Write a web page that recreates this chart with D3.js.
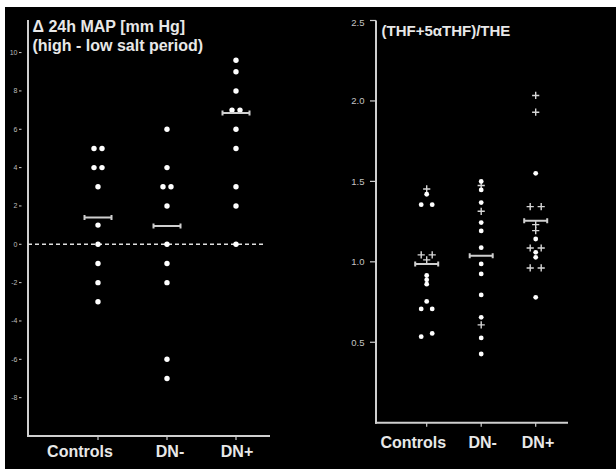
<!DOCTYPE html>
<html>
<head>
<meta charset="utf-8">
<script src="https://cdn.jsdelivr.net/npm/d3@7"></script>
<style>
html,body{margin:0;padding:0;background:#fff;}
svg{display:block;}
text{font-family:"Liberation Sans",Arial,sans-serif;}
</style>
</head>
<body>
<script>
// ---------- DATA ----------
const categories = ["Controls", "DN-", "DN+"];

// Left panel: Δ 24h MAP [mm Hg] (high - low salt period)
const mapTicks = [10, 8, 6, 4, 2, 0, -2, -4, -6, -8];
const mapControls = [5, 5, 4, 4, 3, 1, 0, -1, -2, -3];
const mapDNminus = [6, 4, 3, 3, 2, 0, -1, -2, -6, -7];
const mapDNplus = [9.6, 9, 8, 7, 7, 6, 5, 3, 2, 0];
const mapMeans = [1.4, 0.95, 6.85];

// Right panel: (THF+5αTHF)/THE  — circles and crosses
const ratioTicks = [2.5, 2.0, 1.5, 1.0, 0.5];
const ratioControlsCircle = [1.42, 1.355, 1.355, 0.915, 0.888, 0.861, 0.754, 0.707, 0.707, 0.555, 0.535];
const ratioControlsCross = [1.453, 1.043, 1.043, 1.012];
const ratioDNminusCircle = [1.50, 1.447, 1.368, 1.244, 1.192, 1.088, 0.987, 0.925, 0.794, 0.655, 0.527, 0.427];
const ratioDNminusCross = [1.474, 1.314, 0.608];
const ratioDNplusCircle = [1.55, 1.142, 1.059, 1.028, 0.779];
const ratioDNplusCross = [2.034, 1.93, 1.343, 1.343, 1.231, 1.194, 1.086, 1.086, 0.962, 0.962];
const ratioMeans = [0.987, 1.037, 1.256];

// ---------- LAYOUT ----------
const W = 616, H = 469;
const axisCol = "#cfcfcf", textCol = "#e8e8e8", dotCol = "#ffffff", crossCol = "#d6d6d6";

const svg = d3.select("body").append("svg").attr("width", W).attr("height", H);
svg.append("rect").attr("x", 0).attr("y", 0).attr("width", W).attr("height", H).attr("fill", "#fff");
svg.append("rect").attr("x", 5).attr("y", 7).attr("width", W - 5).attr("height", H - 7).attr("fill", "#000");

// Dodge helper: points closer than thresh px get spread horizontally
function dodge(points, y, step, thresh) {
  const s = points.map((p, i) => ({...p, i})).sort((a, b) => a.v - b.v);
  const clusters = [];
  s.forEach((p, k) => {
    if (k > 0 && Math.abs(y(p.v) - y(s[k - 1].v)) < thresh) clusters[clusters.length - 1].push(p);
    else clusters.push([p]);
  });
  clusters.forEach(c => c.forEach((p, j) => { p.dx = (j - (c.length - 1) / 2) * 2 * step; }));
  return s;
}

function crossPath(cx, cy, h) {
  return `M${cx - h},${cy}H${cx + h}M${cx},${cy - h}V${cy + h}`;
}

function meanBar(g, cx, cy, half, cap) {
  g.append("path")
    .attr("d", `M${cx - half},${cy}H${cx + half}M${cx - half},${cy - cap}V${cy + cap}M${cx + half},${cy - cap}V${cy + cap}`)
    .attr("stroke", axisCol).attr("stroke-width", 2).attr("fill", "none");
}

// ---------- LEFT PANEL ----------
(function () {
  const g = svg.append("g");
  const axX = 28, top = 20, bottom = 436, right = 270;
  const y = d3.scaleLinear().domain([-10, 11.7]).range([bottom, top]);
  const x = d3.scalePoint().domain(categories).range([98, 236]);
  const labelShift = {"Controls": -18, "DN-": 3, "DN+": 1};

  // axes
  g.append("line").attr("x1", axX).attr("x2", axX).attr("y1", top).attr("y2", bottom + 1)
    .attr("stroke", axisCol).attr("stroke-width", 2);
  g.append("line").attr("x1", axX - 1).attr("x2", right).attr("y1", bottom).attr("y2", bottom)
    .attr("stroke", axisCol).attr("stroke-width", 2);

  mapTicks.forEach(t => {
    g.append("line").attr("x1", 19).attr("x2", 21.5).attr("y1", y(t)).attr("y2", y(t))
      .attr("stroke", axisCol).attr("stroke-width", 1);
    g.append("text").attr("x", 17.5).attr("y", y(t)).attr("dy", "0.35em")
      .attr("text-anchor", "end").attr("font-size", 7).attr("fill", "#bdbdbd").text(t);
  });

  categories.forEach(c => {
    g.append("line").attr("x1", x(c)).attr("x2", x(c)).attr("y1", bottom).attr("y2", bottom + 4)
      .attr("stroke", axisCol).attr("stroke-width", 1.2);
    g.append("text").attr("x", x(c) + labelShift[c]).attr("y", 456.5).attr("text-anchor", "middle")
      .attr("font-size", 16).attr("font-weight", "bold").attr("fill", textCol).text(c);
  });

  // zero dashed line
  g.append("line").attr("x1", axX).attr("x2", 266).attr("y1", y(0)).attr("y2", y(0))
    .attr("stroke", "#e0e0e0").attr("stroke-width", 1.6).attr("stroke-dasharray", "4,3");

  // title
  g.append("text").attr("x", 32.5).attr("y", 31.5).attr("font-size", 16).attr("font-weight", "bold")
    .attr("fill", textCol).text("Δ 24h MAP [mm Hg]");
  g.append("text").attr("x", 32.5).attr("y", 50.5).attr("font-size", 16).attr("font-weight", "bold")
    .attr("fill", textCol).text("(high - low salt period)");

  const groups = [mapControls, mapDNminus, mapDNplus];
  groups.forEach((vals, gi) => {
    const c = categories[gi];
    const pts = dodge(vals.map(v => ({v})), y, 4, 2);
    g.selectAll(null).data(pts).enter().append("circle")
      .attr("cx", d => x(c) + d.dx).attr("cy", d => y(d.v)).attr("r", 2.7).attr("fill", dotCol);
    meanBar(g, x(c), y(mapMeans[gi]), 13.5, 2.5);
  });
})();

// ---------- RIGHT PANEL ----------
(function () {
  const g = svg.append("g");
  const axX = 376, top = 20.5, bottom = 422.7, right = 568;
  const y = d3.scaleLinear().domain([0, 2.5]).range([bottom, top]);
  const x = d3.scalePoint().domain(categories).range([426.7, 535.7]);
  const labelShift = {"Controls": -13.4, "DN-": 1.5, "DN+": 2.3};

  g.append("line").attr("x1", axX).attr("x2", axX).attr("y1", top).attr("y2", bottom + 1)
    .attr("stroke", axisCol).attr("stroke-width", 2);
  g.append("line").attr("x1", axX - 1).attr("x2", right).attr("y1", bottom).attr("y2", bottom)
    .attr("stroke", axisCol).attr("stroke-width", 2);

  ratioTicks.forEach(t => {
    g.append("line").attr("x1", 370).attr("x2", axX).attr("y1", y(t)).attr("y2", y(t))
      .attr("stroke", axisCol).attr("stroke-width", 1.2);
    g.append("text").attr("x", 364.5).attr("y", y(t) + (t === 2.5 ? 2.5 : 0)).attr("dy", "0.35em")
      .attr("text-anchor", "end").attr("font-size", 9.5).attr("fill", "#c4c4c4").text(d3.format(".1f")(t));
  });

  categories.forEach(c => {
    g.append("line").attr("x1", x(c)).attr("x2", x(c)).attr("y1", bottom).attr("y2", bottom + 4)
      .attr("stroke", axisCol).attr("stroke-width", 1.2);
    g.append("text").attr("x", x(c) + labelShift[c]).attr("y", 448).attr("text-anchor", "middle")
      .attr("font-size", 16).attr("font-weight", "bold").attr("fill", textCol).text(c);
  });

  g.append("text").attr("x", 381.5).attr("y", 36).attr("font-size", 15).attr("font-weight", "bold")
    .attr("fill", textCol).text("(THF+5αTHF)/THE");

  const circles = [ratioControlsCircle, ratioDNminusCircle, ratioDNplusCircle];
  const crosses = [ratioControlsCross, ratioDNminusCross, ratioDNplusCross];
  categories.forEach((c, gi) => {
    const pts = dodge(
      circles[gi].map(v => ({v, t: "o"})).concat(crosses[gi].map(v => ({v, t: "+"}))),
      y, 5.5, 3.6);
    g.selectAll(null).data(pts.filter(d => d.t === "+")).enter().append("path")
      .attr("d", d => crossPath(x(c) + d.dx, y(d.v), 3.6))
      .attr("stroke", crossCol).attr("stroke-width", 1.4).attr("fill", "none");
    g.selectAll(null).data(pts.filter(d => d.t === "o")).enter().append("circle")
      .attr("cx", d => x(c) + d.dx).attr("cy", d => y(d.v)).attr("r", 2.4).attr("fill", dotCol);
    meanBar(g, x(c), y(ratioMeans[gi]), 11.5, 2.5);
  });
})();
</script>
</body>
</html>
